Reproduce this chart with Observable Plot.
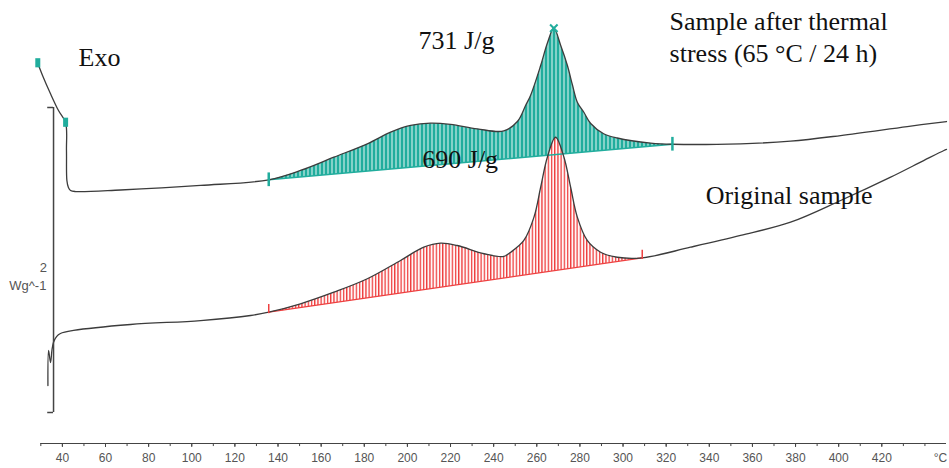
<!DOCTYPE html>
<html><head><meta charset="utf-8">
<script src="https://cdn.jsdelivr.net/npm/d3@7"></script>
<script src="https://cdn.jsdelivr.net/npm/@observablehq/plot@0.6"></script>
<style>
html,body{margin:0;padding:0;background:#fff;}
#chart svg{display:block;}
</style></head><body><div id="chart"></div>
<script>
// DSC curve of the sample after thermal stress (temperature °C, heat flow W/g, exo up)
const tempAfter = [28.6, 30.8, 34.5, 38.2, 41.5, 41.9, 42.1, 42.8, 43.8, 46.1, 67.0, 104.1, 135.7, 150.4, 165.9, 181.4, 192.2, 201.5, 210.7, 220.0, 232.4, 244.7, 251.0, 254.8, 257.1, 261.8, 265.0, 267.9, 271.1, 274.2, 276.6, 278.8, 281.9, 285.0, 291.0, 297.3, 312.8, 322.9, 354.5, 377.7, 400.9, 431.8, 450.0];
const heatAfter = [2.29, 2.21, 2.09, 1.98, 1.90, 1.72, 1.52, 1.475, 1.456, 1.449, 1.459, 1.489, 1.526, 1.587, 1.674, 1.762, 1.838, 1.882, 1.897, 1.889, 1.860, 1.846, 1.908, 2.013, 2.079, 2.275, 2.426, 2.520, 2.407, 2.275, 2.144, 2.035, 1.967, 1.895, 1.828, 1.800, 1.767, 1.759, 1.762, 1.779, 1.816, 1.875, 1.908];
// DSC curve of the original sample
const tempOriginal = [33.3, 33.6, 34.5, 35.2, 35.9, 37.3, 39.1, 45.2, 71.6, 104.1, 127.3, 135.7, 150.4, 165.9, 181.4, 196.8, 207.6, 215.4, 223.1, 235.5, 244.7, 247.9, 254.0, 258.7, 261.8, 264.9, 268.7, 272.6, 275.7, 278.8, 283.4, 289.6, 297.3, 308.9, 331.3, 354.5, 377.7, 400.9, 424.1, 439.4, 448.8, 450.0];
const heatOriginal = [0.177, 0.407, 0.328, 0.413, 0.461, 0.498, 0.518, 0.538, 0.577, 0.603, 0.636, 0.658, 0.713, 0.789, 0.877, 0.997, 1.084, 1.110, 1.095, 1.041, 1.023, 1.051, 1.128, 1.281, 1.477, 1.674, 1.805, 1.674, 1.477, 1.281, 1.128, 1.051, 1.018, 1.014, 1.084, 1.161, 1.248, 1.390, 1.543, 1.652, 1.718, 1.725];
// integration limits (°C) and other evaluation markers
const limitsAfter = [135.7, 322.9];
const limitsOriginal = [135.7, 308.9];
const blobTempsAfter = [28.6, 41.5];
const peakTempAfter = [267.9];
// x axis ticks
const minorTicks = d3.range(30, 441, 10);
const labelTicks = d3.range(40, 421, 20);
const unitLabel = ["°C"];
// y scale bar (W/g)
const scaleBar = [0, 2];
const scaleBarLabel = ["2", "Wg^-1"];
// annotations
const noteText = ["Exo", "731 J/g", "690 J/g", "Sample after thermal\nstress (65 °C / 24 h)", "Original sample"];
const noteT = [47.5, 205.2, 206.9, 321.6, 338.3];
const noteV = [2.275, 2.385, 1.600, 2.297, 1.370];

const after = tempAfter.map((T, i) => ({T, v: heatAfter[i]}));
const original = tempOriginal.map((T, i) => ({T, v: heatOriginal[i]}));
const peakAfter = after.filter(d => d.T >= limitsAfter[0] && d.T <= limitsAfter[1]);
const peakOriginal = original.filter(d => d.T >= limitsOriginal[0] && d.T <= limitsOriginal[1]);
const baseAfter = [peakAfter[0], peakAfter[peakAfter.length - 1]];
const baseOriginal = [peakOriginal[0], peakOriginal[peakOriginal.length - 1]];
const blobsAfter = after.filter(d => blobTempsAfter.includes(d.T));
const peakMark = after.filter(d => peakTempAfter.includes(d.T));
const notes = noteText.map((t, i) => ({t, T: noteT[i], v: noteV[i]}));

const TEAL = "#21ad9d", RED = "#ee4040", INK = "#3c3c3c";
const yDomain = [-0.2033, 2.7016];
const curve = "catmull-rom";

const svg = Plot.plot({
  width: 949, height: 468,
  marginLeft: 36, marginRight: 3, marginTop: 0, marginBottom: 25,
  style: {fontFamily: "'Liberation Sans', Arial, sans-serif", fontSize: "12px", background: "#fff"},
  x: {domain: [28, 450], axis: null, label: null},
  y: {domain: yDomain, axis: null, label: null},
  marks: [
    // hatched peak areas (path closes along the straight baseline)
    Plot.line(peakAfter, {x: "T", y: "v", curve, fill: "url(#hatchTeal)", stroke: "none"}),
    Plot.line(peakOriginal, {x: "T", y: "v", curve, fill: "url(#hatchRed)", stroke: "none"}),
    Plot.line(baseAfter, {x: "T", y: "v", stroke: TEAL, strokeWidth: 1.6}),
    Plot.line(baseOriginal, {x: "T", y: "v", stroke: RED, strokeWidth: 1.2}),
    // curves
    Plot.line(after, {x: "T", y: "v", curve, stroke: INK, strokeWidth: 1.3}),
    Plot.line(original, {x: "T", y: "v", curve, stroke: INK, strokeWidth: 1.3}),
    // evaluation markers
    Plot.ruleX(blobsAfter, {x: "T", y1: d => d.v - 0.03, y2: d => d.v + 0.03, stroke: TEAL, strokeWidth: 5}),
    Plot.ruleX(baseAfter, {x: "T", y1: d => d.v - 0.045, y2: d => d.v + 0.045, stroke: TEAL, strokeWidth: 2.5}),
    Plot.ruleX(baseOriginal, {x: "T", y1: d => d.v - 0.01, y2: d => d.v + 0.05, stroke: RED, strokeWidth: 1.5}),
    Plot.dot(peakMark, {x: "T", y: "v", symbol: "times", r: 3.5, stroke: TEAL, strokeWidth: 2}),
    // y scale bar
    Plot.ruleX([35.9], {y1: scaleBar[0], y2: scaleBar[1], stroke: "#444", strokeWidth: 1.5}),
    Plot.ruleY(scaleBar, {x1: 33.2, x2: 35.9, stroke: "#444", strokeWidth: 1.5}),
    Plot.text([scaleBarLabel[0]], {x: 32.9, y: 0.951, textAnchor: "end", fill: "#555", fontSize: 13}),
    Plot.text([scaleBarLabel[1]], {x: 32.6, y: 0.833, textAnchor: "end", fill: "#555", fontSize: 13}),
    // x axis
    Plot.ruleY([yDomain[0]], {x1: 30, x2: 450, stroke: "#444", strokeWidth: 1.2}),
    Plot.ruleX(minorTicks, {x: d => d, y1: yDomain[0], y2: yDomain[0] - 0.02, stroke: "#444"}),
    Plot.axisX(labelTicks, {tickSize: 4, tickPadding: 6, color: "#555", stroke: "#444", label: null, tickFormat: d => String(d)}),
    Plot.text(unitLabel, {x: 447.2, y: yDomain[0], dy: 15, fill: "#555", fontSize: 12}),
    // annotations
    Plot.text(notes, {x: "T", y: "v", text: "t", textAnchor: "start", lineAnchor: "bottom", lineHeight: 1.22,
      fontFamily: "'Liberation Serif', 'Times New Roman', serif", fontSize: 26, fill: "#111"})
  ]
});

const defs = document.createElementNS("http://www.w3.org/2000/svg", "defs");
defs.innerHTML = `
<pattern id="hatchTeal" patternUnits="userSpaceOnUse" width="4" height="10">
  <rect width="4" height="10" fill="#e8f7f5"/><rect width="3" height="10" fill="${TEAL}"/>
</pattern>
<pattern id="hatchRed" patternUnits="userSpaceOnUse" width="3.2" height="10">
  <rect width="3.2" height="10" fill="#fff6f6"/><rect width="1.3" height="10" fill="${RED}"/>
</pattern>`;
svg.insertBefore(defs, svg.firstChild);
document.getElementById("chart").appendChild(svg);
</script></body></html>
